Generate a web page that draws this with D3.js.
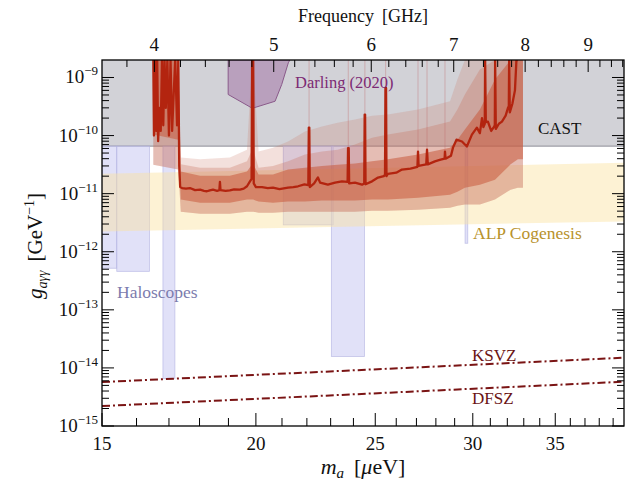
<!DOCTYPE html>
<html>
<head>
<meta charset="utf-8">
<script src="https://cdn.jsdelivr.net/npm/d3@7"></script>
<style>
  body { margin: 0; background: #fff; }
  text { font-family: "Liberation Serif", "Times New Roman", serif; }
</style>
</head>
<body>
<svg id="chart" width="626" height="487"></svg>
<script>
// ---------- axes ----------
const massDomain = [15, 39.8];          // axion mass m_a [μeV]
const gDomain = [1e-15, 2e-9];          // coupling g_aγγ [GeV^-1]
const GHZ_PER_UEV = 0.241799;           // photon frequency per μeV

const massLabels = [15, 20, 25, 30, 35];
const freqLabels = [4, 5, 6, 7, 8, 9];
const decadeExponents = [-15, -14, -13, -12, -11, -10, -9];

// ---------- existing limits ----------
const castLimit = 6.6e-11;

const haloStart = [15.0, 15.42, 16.81, 21.05, 23.03, 29.57];
const haloEnd   = [15.42, 16.39, 17.19, 23.11, 24.50, 29.72];
const haloFloor = [5.2e-13, 4.6e-13, 6.6e-15, 2.9e-12, 1.57e-14, 1.4e-12];

const darlingMass = [18.99, 18.99, 19.84, 19.92, 20.73, 20.99, 21.25, 21.31];
const darlingG    = [2e-9, 5.1e-10, 3.0e-10, 3.0e-10, 3.9e-10, 7.6e-10, 1.79e-9, 2e-9];

// ALP cogenesis band edges
const alpMass   = [15, 39.8];
const alpTop    = [2.2e-11, 3.4e-11];
const alpBottom = [2.24e-12, 3.33e-12];

// QCD axion benchmark models
const modelMass = [15, 39.8];
const ksvzG = [5.7e-15, 1.5e-14];
const dfszG = [2.2e-15, 5.8e-15];

// ---------- sensitivity: uncertainty bands ----------
const bandMass = [16.51, 17.30, 17.38, 18.02, 19.05, 19.67, 19.86, 19.90, 20.10, 20.65, 21.24, 21.92, 22.63,
                  23.30, 24.07, 24.85, 25.60, 27.08, 28.75, 29.15, 29.56, 30.40, 31.27, 32.20, 32.64, 32.95];
const band3Hi = [2e-9, 2e-9, 4.2e-11, 3.9e-11, 4.2e-11, 5.7e-11, 2e-9, 2e-9, 5.3e-11, 6.2e-11, 7.9e-11, 1.17e-10, 1.43e-10,
                 1.67e-10, 1.89e-10, 2.2e-10, 2.3e-10, 2.8e-10, 3.9e-10, 9.2e-10, 2e-9, 2e-9, 2e-9, 2e-9, 2e-9, 2e-9];
const band2Hi = [2e-9, 2e-9, 3.2e-11, 2.8e-11, 2.8e-11, 3.6e-11, 5.7e-11, 5.7e-11, 2.8e-11, 3.0e-11, 3.6e-11, 4.7e-11, 5.3e-11,
                 5.7e-11, 7.0e-11, 9.2e-11, 1.04e-10, 1.27e-10, 1.74e-10, 2.8e-10, 5.1e-10, 1.37e-9, 2e-9, 2e-9, 2e-9, 2e-9];
const band1Hi = [2e-9, 2e-9, 2.4e-11, 2.04e-11, 2.04e-11, 2.4e-11, 3.2e-11, 3.2e-11, 2.13e-11, 2.13e-11, 2.6e-11, 2.8e-11, 3.0e-11,
                 3.16e-11, 3.3e-11, 3.6e-11, 3.9e-11, 4.7e-11, 6.2e-11, 8.5e-11, 1.27e-10, 2.8e-10, 9.2e-10, 2e-9, 2e-9, 2e-9];
const band1Lo = [1.04e-10, 8.5e-11, 7.9e-12, 7.0e-12, 7.0e-12, 7.9e-12, 7.9e-12, 7.9e-12, 7.3e-12, 7.0e-12, 7.3e-12, 7.3e-12, 7.6e-12,
                 7.6e-12, 7.6e-12, 7.9e-12, 7.9e-12, 8.5e-12, 9.6e-12, 1.08e-11, 1.27e-11, 1.43e-11, 1.74e-11, 3.2e-11, 3.9e-11, 3.9e-11];
const band2Lo = [3.16e-11, 2.6e-11, 4.9e-12, 4.5e-12, 4.5e-12, 4.9e-12, 4.9e-12, 4.9e-12, 4.7e-12, 4.7e-12, 4.9e-12, 4.9e-12, 4.9e-12,
                 4.9e-12, 4.9e-12, 5.1e-12, 5.1e-12, 5.3e-12, 5.7e-12, 6.2e-12, 6.5e-12, 6.5e-12, 7.9e-12, 1.17e-11, 1.27e-11, 1.27e-11];

// faint narrow excursions continuing above the resonant spikes
const streakMass = [22.09, 23.77, 24.52, 25.49, 27.08, 27.54, 28.48];
const streakFrom = [1.37e-10, 6.1e-11, 2.3e-10, 6.6e-10, 5.3e-11, 5.7e-11, 5.3e-11];

// ---------- sensitivity: median curve [m_a μeV, g GeV^-1] ----------
const sensitivity = [
  [16.51, 2.0e-9], [16.53, 1.0e-10], [16.56, 2.0e-9], [16.60, 1.2e-10], [16.63, 2.0e-9], [16.66, 8e-11],
  [16.70, 3e-10], [16.74, 1.2e-10], [16.78, 2.0e-9], [16.82, 1.5e-10], [16.86, 2.0e-9], [16.90, 3e-10],
  [16.95, 2.0e-9], [17.00, 1.0e-10], [17.05, 2.0e-9], [17.10, 1.2e-10], [17.15, 5e-10], [17.20, 2.0e-9],
  [17.26, 1.5e-10], [17.30, 2.0e-9], [17.33, 3e-11], [17.36, 1.3e-11], [17.42, 1.25e-11], [17.55, 1.22e-11],
  [17.68, 1.25e-11], [17.85, 1.15e-11], [18.02, 1.17e-11], [18.15, 1.12e-11], [18.25, 1.10e-11], [18.35, 1.14e-11],
  [18.46, 1.17e-11], [18.60, 1.12e-11], [18.68, 1.15e-11], [18.70, 1.6e-11], [18.72, 1.15e-11], [18.90, 1.12e-11],
  [19.05, 1.14e-11], [19.20, 1.18e-11], [19.41, 1.17e-11], [19.55, 1.22e-11], [19.67, 1.34e-11], [19.78, 1.63e-11],
  [19.84, 1.8e-11], [19.86, 2.0e-9], [19.90, 2.0e-9], [19.92, 1.5e-11], [20.00, 1.3e-11], [20.23, 1.3e-11],
  [20.45, 1.25e-11], [20.65, 1.27e-11], [20.90, 1.2e-11], [21.24, 1.27e-11], [21.45, 1.3e-11], [21.64, 1.34e-11],
  [21.90, 1.45e-11], [22.06, 1.4e-11], [22.08, 1.37e-10], [22.10, 1.37e-10], [22.12, 1.3e-11], [22.30, 1.5e-11],
  [22.46, 1.9e-11], [22.55, 1.55e-11], [22.88, 1.43e-11], [23.19, 1.55e-11], [23.49, 1.63e-11], [23.74, 1.6e-11],
  [23.76, 6.1e-11], [23.79, 6.1e-11], [23.81, 1.5e-11], [24.07, 1.55e-11], [24.39, 1.43e-11], [24.49, 1.5e-11],
  [24.51, 2.3e-10], [24.53, 2.3e-10], [24.55, 1.45e-11], [24.85, 1.63e-11], [25.13, 1.89e-11], [25.40, 2.0e-11],
  [25.46, 2.1e-11], [25.48, 6.6e-10], [25.51, 6.6e-10], [25.53, 2.0e-11], [25.60, 2.2e-11], [26.00, 2.3e-11],
  [26.28, 2.6e-11], [26.70, 2.7e-11], [27.05, 2.9e-11], [27.08, 5.3e-11], [27.11, 3.0e-11], [27.50, 3.2e-11],
  [27.54, 5.7e-11], [27.58, 3.2e-11], [27.95, 3.6e-11], [28.20, 3.8e-11], [28.46, 4.0e-11], [28.48, 5.3e-11],
  [28.51, 4.0e-11], [28.80, 4.5e-11], [28.91, 6.2e-11], [29.10, 8.5e-11], [29.40, 7.9e-11], [29.67, 6.5e-11],
  [29.95, 1.04e-10], [30.23, 1.37e-10], [30.40, 1.1e-10], [30.52, 2.0e-10], [30.60, 1.4e-10], [30.68, 1.6e-10],
  [30.70, 2.0e-9], [30.74, 1.7e-10], [30.86, 1.74e-10], [31.05, 1.2e-10], [31.20, 1.4e-10], [31.26, 1.5e-10],
  [31.28, 2.0e-9], [31.32, 1.3e-10], [31.50, 1.6e-10], [31.68, 1.74e-10], [31.90, 2.2e-10], [32.04, 3.0e-10],
  [32.09, 3.2e-10], [32.11, 2.0e-9], [32.15, 2.5e-10], [32.30, 3.5e-10], [32.46, 6.0e-10], [32.55, 2.0e-9],
  [32.64, 2.0e-9]
];

// ---------- drawing ----------
const pL = 102, pR = 624, pT = 60, pB = 426;
const svg = d3.select("#chart");
const x = d3.scaleLog().domain(massDomain).range([pL, pR]);
const y = d3.scaleLog().domain(gDomain).range([pB, pT]);
const xf = f => x(f / GHZ_PER_UEV);

svg.append("defs").append("clipPath").attr("id", "plotArea")
  .append("rect").attr("x", pL).attr("y", pT).attr("width", pR - pL).attr("height", pB - pT);
const layer = svg.append("g").attr("clip-path", "url(#plotArea)");

// CAST exclusion
layer.append("rect")
  .attr("x", pL).attr("y", pT).attr("width", pR - pL).attr("height", y(castLimit) - pT)
  .attr("fill", "#d2d2d7");
layer.append("line")
  .attr("x1", pL).attr("x2", pR).attr("y1", y(castLimit)).attr("y2", y(castLimit))
  .attr("stroke", "#9d9da6").attr("stroke-width", 1.2);

// haloscope exclusions
layer.append("g").selectAll("rect").data(d3.range(haloStart.length)).join("rect")
  .attr("x", i => x(haloStart[i]))
  .attr("width", i => x(haloEnd[i]) - x(haloStart[i]))
  .attr("y", y(castLimit))
  .attr("height", i => y(haloFloor[i]) - y(castLimit))
  .attr("fill", "#c9c9f2").attr("fill-opacity", 0.55)
  .attr("stroke", "#b2b2e2").attr("stroke-opacity", 0.75).attr("stroke-width", 0.8);

// ALP cogenesis band
layer.append("path")
  .datum(d3.range(alpMass.length))
  .attr("d", d3.area().x(i => x(alpMass[i])).y0(i => y(alpBottom[i])).y1(i => y(alpTop[i])))
  .attr("fill", "#fbe2a0").attr("fill-opacity", 0.45);

// projected sensitivity bands
const bandIdx = d3.range(bandMass.length);
const band = (lo, hi) => d3.area().x(i => x(bandMass[i])).y0(i => y(lo[i])).y1(i => y(hi[i]))(bandIdx);
layer.append("path").attr("d", band(band2Lo, band3Hi)).attr("fill", "#c87060").attr("fill-opacity", 0.22);
layer.append("path").attr("d", band(band2Lo, band2Hi)).attr("fill", "#c86e5a").attr("fill-opacity", 0.30);
layer.append("path").attr("d", band(band1Lo, band1Hi)).attr("fill", "#c85a3c").attr("fill-opacity", 0.55);

layer.append("g").selectAll("line").data(d3.range(streakMass.length)).join("line")
  .attr("x1", i => x(streakMass[i])).attr("x2", i => x(streakMass[i]))
  .attr("y1", i => y(streakFrom[i])).attr("y2", pT)
  .attr("stroke", "#c06060").attr("stroke-opacity", 0.35).attr("stroke-width", 1);

// Darling (2020)
layer.append("path")
  .datum(d3.range(darlingMass.length))
  .attr("d", d3.line().x(i => x(darlingMass[i])).y(i => y(darlingG[i])).curve(d3.curveLinearClosed))
  .attr("fill", "#8c468c").attr("fill-opacity", 0.35)
  .attr("stroke", "#8a5a8a").attr("stroke-width", 1);

// KSVZ / DFSZ
[ksvzG, dfszG].forEach(gs => {
  layer.append("path")
    .datum(d3.range(modelMass.length))
    .attr("d", d3.line().x(i => x(modelMass[i])).y(i => y(gs[i])))
    .attr("fill", "none").attr("stroke", "#7a1414").attr("stroke-width", 2)
    .attr("stroke-dasharray", "8,3,2,3");
});

// median sensitivity curve
layer.append("path")
  .datum(sensitivity)
  .attr("d", d3.line().x(d => x(d[0])).y(d => y(d[1])))
  .attr("fill", "none").attr("stroke", "#b3240f").attr("stroke-width", 2.3)
  .attr("stroke-linejoin", "round");

// ---------- annotations ----------
const note = (txt, px, py, color, size) => svg.append("text")
  .attr("x", px).attr("y", py).attr("fill", color).attr("font-size", size).text(txt);
note("CAST", 538, 134, "#111", 17);
note("Darling (2020)", 295, 88, "#7d2a74", 16.5);
note("ALP Cogenesis", 473, 239, "#b8922c", 17.5);
note("Haloscopes", 117, 298, "#7c7cae", 17.5);
note("KSVZ", 472, 361, "#6b1414", 17);
note("DFSZ", 472, 404, "#6b1414", 17);

// ---------- frame and ticks ----------
const axes = svg.append("g").attr("stroke", "#000");
axes.append("rect").attr("x", pL).attr("y", pT).attr("width", pR - pL).attr("height", pB - pT)
  .attr("fill", "none").attr("stroke-width", 1.3);

// mass ticks (bottom)
const massMinor = d3.range(16, 40).filter(v => !massLabels.includes(v));
axes.selectAll(".mMaj").data(massLabels).join("line")
  .attr("x1", d => x(d)).attr("x2", d => x(d)).attr("y1", pB).attr("y2", pB - 13).attr("stroke-width", 1);
axes.selectAll(".mMin").data(massMinor).join("line")
  .attr("x1", d => x(d)).attr("x2", d => x(d)).attr("y1", pB).attr("y2", pB - 8).attr("stroke-width", 1);

// frequency ticks (top)
const freqAll = d3.range(19, 49).map(k => k / 5);
axes.selectAll(".fT").data(freqAll).join("line")
  .attr("x1", d => xf(d)).attr("x2", d => xf(d)).attr("y1", pT)
  .attr("y2", d => pT + (Math.abs(d - Math.round(d)) < 1e-6 ? 12 : 7)).attr("stroke-width", 1);

// coupling ticks (left and right)
const gMinor = [];
decadeExponents.slice(0, -1).forEach(e => { for (let k = 2; k <= 9; k++) gMinor.push(k * Math.pow(10, e)); });
const gMajor = decadeExponents.map(e => Math.pow(10, e));
[[pL, 1], [pR, -1]].forEach(([x0, dir]) => {
  gMajor.forEach(v => axes.append("line").attr("x1", x0).attr("x2", x0 + dir * 12)
    .attr("y1", y(v)).attr("y2", y(v)).attr("stroke-width", 1));
  gMinor.forEach(v => axes.append("line").attr("x1", x0).attr("x2", x0 + dir * 7)
    .attr("y1", y(v)).attr("y2", y(v)).attr("stroke-width", 1));
});

// tick labels
const labels = svg.append("g").attr("fill", "#111");
labels.selectAll(".mL").data(massLabels).join("text")
  .attr("x", d => x(d)).attr("y", 450).attr("text-anchor", "middle").attr("font-size", 19).text(d => d);
labels.selectAll(".fL").data(freqLabels).join("text")
  .attr("x", d => xf(d)).attr("y", 51).attr("text-anchor", "middle").attr("font-size", 19).text(d => d);
decadeExponents.forEach(e => {
  const t = labels.append("text").attr("x", pL - 4).attr("y", y(Math.pow(10, e)) + 6)
    .attr("text-anchor", "end").attr("font-size", 19);
  t.append("tspan").text("10");
  t.append("tspan").attr("font-size", 13).attr("dy", -8).text("\u2212" + Math.abs(e));
});

// axis titles
const fTitle = labels.append("text").attr("x", (pL + pR) / 2).attr("y", 22)
  .attr("text-anchor", "middle").attr("font-size", 18);
fTitle.append("tspan").text("Frequency");
fTitle.append("tspan").attr("dx", 8).text("[GHz]");

const mTitle = labels.append("text").attr("x", (pL + pR) / 2).attr("y", 474)
  .attr("text-anchor", "middle").attr("font-size", 22);
mTitle.append("tspan").attr("font-style", "italic").text("m");
mTitle.append("tspan").attr("font-style", "italic").attr("font-size", 15).attr("dy", 4).text("a");
mTitle.append("tspan").attr("dy", -4).attr("dx", 10).text("[");
mTitle.append("tspan").attr("font-style", "italic").text("\u03bc");
mTitle.append("tspan").text("eV]");

const gTitle = labels.append("text").attr("transform", "translate(42,246) rotate(-90)")
  .attr("text-anchor", "middle").attr("font-size", 21);
gTitle.append("tspan").attr("font-style", "italic").text("g");
gTitle.append("tspan").attr("font-style", "italic").attr("font-size", 14).attr("dy", 5).text("a\u03b3\u03b3");
gTitle.append("tspan").attr("dy", -5).attr("dx", 9).text("[GeV");
gTitle.append("tspan").attr("font-size", 14).attr("dy", -8).text("\u22121");
gTitle.append("tspan").attr("dy", 8).text("]");
</script>
</body>
</html>
